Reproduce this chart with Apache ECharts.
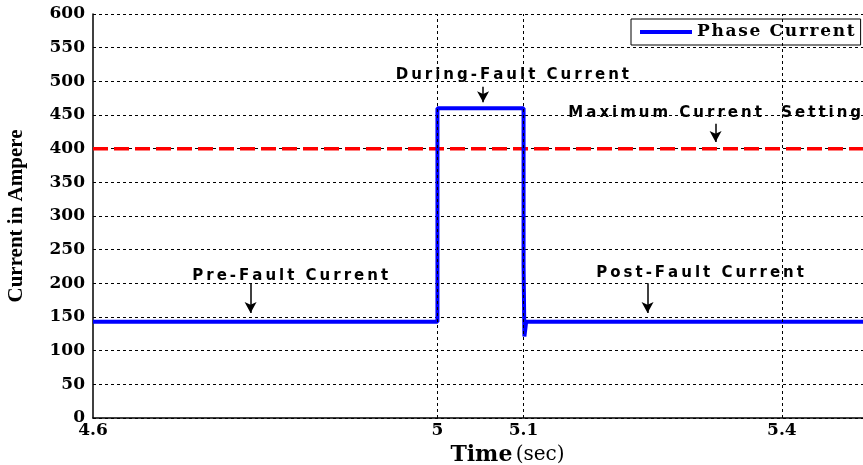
<!DOCTYPE html>
<html>
<head>
<meta charset="utf-8">
<script src="https://cdn.jsdelivr.net/npm/echarts@6/dist/echarts.min.js"></script>
<style>html,body{margin:0;padding:0;background:#fff}#c{width:863px;height:465px}</style>
</head>
<body>
<div id="c"></div>
<script>
// ---- data ----
const xTickLabels = [4.6, 5, 5.1, 5.4];
const yTicks = [0, 50, 100, 150, 200, 250, 300, 350, 400, 450, 500, 550, 600];
const phaseTime = [4.6, 5.0, 5.0, 5.1, 5.1, 5.101, 5.101, 5.103, 5.5];
const phaseCurrent = [143, 143, 460, 460, 227, 227, 121, 143, 143];
const maxSettingTime = [4.6, 5.5];
const maxSettingCurrent = [400, 400];
const vGridAt = [5, 5.1, 5.4];
// annotations: text, text anchor (time, current), arrow (time, from, to)
const annotText = ['During-Fault Current', 'Maximum Current  Setting', 'Pre-Fault Current', 'Post-Fault Current'];
const annotTextX = [5.087, 5.322, 4.829, 5.305];
const annotTextY = [509, 453, 211, 215];
const arrowX = [5.053, 5.323, 4.783, 5.244];
const arrowFrom = [492, 437, 199, 200];
const arrowTo = [469, 410, 156, 156];

const spaced = (s, sp) => Array.from(s).join(sp);
const chart = echarts.init(document.getElementById('c'));
const tickFont = {fontFamily: 'DejaVu Serif', fontWeight: 'bold', fontSize: 17, color: '#000'};
const annFont = {fontFamily: 'DejaVu Sans', fontWeight: 'bold', fontSize: 15, color: '#000'};

chart.setOption({
  animation: false,
  backgroundColor: '#fff',
  grid: {left: 93, top: 14, height: 404, right: -5, outerBoundsMode: 'none', containLabel: false},
  legend: {
    data: [{name: 'Phase Current', icon: 'rect'}],
    left: 631, top: 19,
    backgroundColor: '#fff', borderColor: '#000', borderWidth: 1,
    padding: [4, 6, 4, 9],
    itemWidth: 52, itemHeight: 4,
    formatter: n => spaced(n, '\u200A'),
    textStyle: {fontFamily: 'DejaVu Serif', fontWeight: 'bold', fontSize: 17, color: '#000', lineHeight: 18}
  },
  xAxis: {
    type: 'value', min: 4.6, max: 5.5, interval: 0.1,
    name: '{b|Time} {n|(sec)}', nameLocation: 'middle', nameGap: 24,
    nameTextStyle: {padding: [0, 0, 0, 54], rich: {
      b: {fontFamily: 'DejaVu Serif', fontWeight: 'bold', fontSize: 22, color: '#000'},
      n: {fontFamily: 'DejaVu Serif', fontSize: 20, color: '#000'}
    }},
    axisLine: {lineStyle: {color: '#000', width: 1.5}},
    axisTick: {show: false},
    splitLine: {show: false},
    axisLabel: Object.assign({margin: 4, showMaxLabel: false, formatter: v => xTickLabels.includes(+(+v).toFixed(1)) ? String(+(+v).toFixed(1)) : ''}, tickFont)
  },
  yAxis: {
    type: 'value', min: yTicks[0], max: yTicks[yTicks.length - 1], interval: 50,
    name: 'Current in Ampere', nameLocation: 'middle', nameGap: 66,
    nameTextStyle: {fontFamily: 'Liberation Serif', fontWeight: 'bold', fontSize: 21, color: '#000'},
    axisLine: {lineStyle: {color: '#000', width: 1.5}},
    axisTick: {show: false},
    splitLine: {lineStyle: {color: '#000', width: 1, type: [3, 3]}},
    axisLabel: Object.assign({margin: 8}, tickFont)
  },
  series: [
    {
      name: 'vgrid', type: 'line', data: [], z: 1, silent: true,
      markLine: {
        silent: true, symbol: ['none', 'none'], animation: false,
        label: {show: false},
        lineStyle: {color: '#000', width: 1, type: [3, 3]},
        data: vGridAt.map(v => ({xAxis: v}))
      }
    },
    {
      name: 'Maximum Current Setting', type: 'line', z: 2, symbol: 'none',
      data: maxSettingTime.map((t, i) => [t, maxSettingCurrent[i]]),
      lineStyle: {color: '#ff0000', width: 3.5, type: [15, 6]}
    },
    {
      name: 'Phase Current', type: 'line', z: 3, symbol: 'none', showSymbol: false,
      data: phaseTime.map((t, i) => [t, phaseCurrent[i]]),
      lineStyle: {color: '#0000ff', width: 4},
      itemStyle: {color: '#0000ff'}
    },
    {
      name: 'annot', type: 'line', data: [], z: 4, silent: true,
      markPoint: {
        silent: true, symbol: 'circle', symbolSize: 0, animation: false,
        label: Object.assign({show: true, position: 'inside', formatter: p => spaced(p.name, '\u2009')}, annFont),
        data: annotText.map((t, i) => ({name: t, coord: [annotTextX[i], annotTextY[i]]}))
      },
      markLine: {
        silent: true, animation: false, symbol: ['none', 'arrow'], symbolSize: [9, 11],
        label: {show: false},
        lineStyle: {color: '#000', width: 1.5, type: 'solid'},
        data: arrowX.map((x, i) => [{coord: [x, arrowFrom[i]]}, {coord: [x, arrowTo[i]]}])
      }
    }
  ]
});
</script>
</body>
</html>
